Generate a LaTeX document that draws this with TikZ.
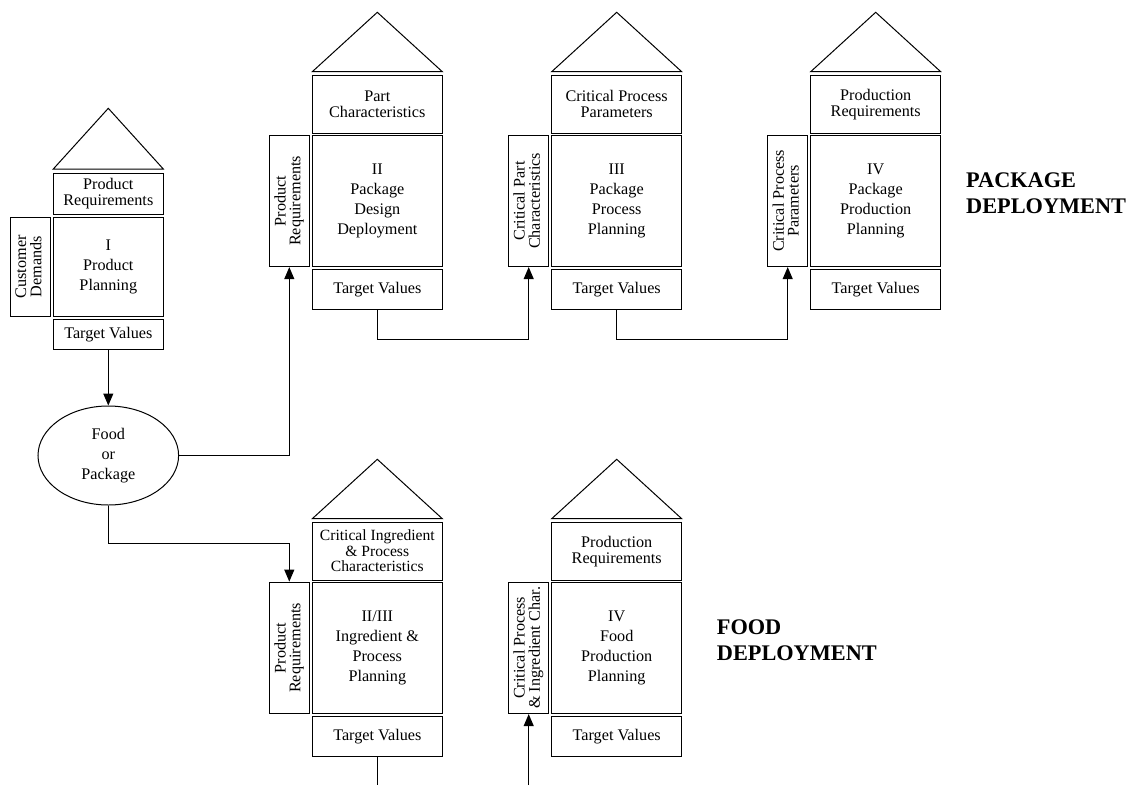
\documentclass[tikz,border=0pt]{standalone}
\usepackage{fontspec}
\usepackage{graphicx}
\setmainfont{Liberation Serif}
\usetikzlibrary{arrows.meta,shapes.geometric}

% upright text column turned to read from bottom to top
\newcommand\sidetext[1]{\rotatebox{90}{\fontsize{16.2}{13.5}\selectfont\begin{tabular}{@{}c@{}}#1\end{tabular}}}

\tikzset{
  frame/.style={draw, line width=1pt, inner sep=0pt, align=center},
  topbox/.style={frame, font=\fontsize{16.2}{16}\selectfont, minimum width=130pt, minimum height=58.3pt},
  mainbox/.style={frame, font=\fontsize{16.2}{20}\selectfont, minimum width=130pt, minimum height=131.5pt},
  sidebox/.style={frame, minimum width=40pt, minimum height=131.5pt},
  tvbox/.style={frame, font=\fontsize{16.2}{20}\selectfont, minimum width=130pt, minimum height=40.5pt},
  roof/.style={draw, line width=1pt, line join=miter},
  link/.style={draw, line width=1pt},
  arr/.style={link, -{Triangle[length=12pt,width=10pt]}},
  headline/.style={anchor=north west, inner sep=0pt, align=left, font=\fontsize{22.3}{26.7}\selectfont\bfseries}
}

\begin{document}
\begin{tikzpicture}[x=1pt,y=-1pt]
\useasboundingbox (0,0) rectangle (1133,785);

% ---- House I: product planning
\draw[roof] (53.3,169) -- (108.3,108.3) -- (163.3,169) -- cycle;
\node[frame, font=\fontsize{16.2}{16}\selectfont, minimum width=110pt, minimum height=41.3pt] (t1) at (108.3,193.65) {Product\\Requirements};
\node[frame, font=\fontsize{16.2}{20}\selectfont, minimum width=110pt, minimum height=98.3pt] (m1) at (108.3,266.85) {I\\Product\\Planning};
\node[frame, minimum width=39.3pt, minimum height=98.3pt] (s1) at (30.35,266.85) {\sidetext{Customer\\Demands}};
\node[frame, font=\fontsize{16.2}{20}\selectfont, minimum width=110pt, minimum height=30pt] (v1) at (108.3,334.3) {Target Values};

% ---- decision ellipse
\node[draw, line width=1pt, ellipse, inner sep=0pt, minimum width=140.6pt, minimum height=99pt, align=center, font=\fontsize{16.2}{20}\selectfont] (ell) at (108.3,455.5) {Food\\or\\Package};

% ---- House II: package design deployment
\draw[roof] (312.3,71.7) -- (377.3,12.3) -- (442.3,71.7) -- cycle;
\node[topbox] (t2) at (377.3,104.15) {Part\\Characteristics};
\node[mainbox] (m2) at (377.3,200.85) {II\\Package\\Design\\Deployment};
\node[sidebox] (s2) at (289.3,200.85) {\sidetext{Product\\Requirements}};
\node[tvbox] (v2) at (377.3,289.65) {Target Values};

% ---- House III: package process planning
\draw[roof] (551.7,71.7) -- (616.7,12.3) -- (681.7,71.7) -- cycle;
\node[topbox] (t3) at (616.7,104.15) {Critical Process\\Parameters};
\node[mainbox] (m3) at (616.7,200.85) {III\\Package\\Process\\Planning};
\node[sidebox] (s3) at (528.7,200.85) {\sidetext{Critical Part\\Characteristics}};
\node[tvbox] (v3) at (616.7,289.65) {Target Values};

% ---- House IV: package production planning
\draw[roof] (810.7,71.7) -- (875.7,12.3) -- (940.7,71.7) -- cycle;
\node[topbox] (t4) at (875.7,104.15) {Production\\Requirements};
\node[mainbox] (m4) at (875.7,200.85) {IV\\Package\\Production\\Planning};
\node[sidebox] (s4) at (787.7,200.85) {\sidetext{Critical Process\\Parameters}};
\node[tvbox] (v4) at (875.7,289.65) {Target Values};

% ---- House II/III: ingredient and process planning
\draw[roof] (312.3,518.7) -- (377.3,459.3) -- (442.3,518.7) -- cycle;
\node[topbox, font=\fontsize{15.6}{15.5}\selectfont] (t5) at (377.3,551.15) {Critical Ingredient\\\& Process\\Characteristics};
\node[mainbox] (m5) at (377.3,647.85) {II/III\\Ingredient \&\\Process\\Planning};
\node[sidebox] (s5) at (289.3,647.85) {\sidetext{Product\\Requirements}};
\node[tvbox] (v5) at (377.3,736.7) {Target Values};

% ---- House IV: food production planning
\draw[roof] (551.7,518.7) -- (616.7,459.3) -- (681.7,518.7) -- cycle;
\node[topbox] (t6) at (616.7,551.15) {Production\\Requirements};
\node[mainbox] (m6) at (616.7,647.85) {IV\\Food\\Production\\Planning};
\node[sidebox] (s6) at (528.7,647.85) {\sidetext{Critical Process\\\& Ingredient Char.}};
\node[tvbox] (v6) at (616.7,736.7) {Target Values};

% ---- section headings
\node[headline] (pkg) at (966,172.3) {PACKAGE\\DEPLOYMENT};
\node[headline] (food) at (716.7,619.3) {FOOD\\DEPLOYMENT};

% ---- flow connectors
\draw[arr] (v1.south) -- (ell.north);
\draw[arr] (ell.east) -| (s2.south);
\draw[arr] (ell.south) -- ++(0,38.3) -| (s5.north);
\draw[arr] (v2.south) -- ++(0,29.5) -| (s3.south);
\draw[arr] (v3.south) -- ++(0,29.5) -| (s4.south);

% ---- open ends at the lower edge
\coordinate (out5) at (377.3,785);
\coordinate (in6) at (528.7,785);
\draw[link] (v5.south) -- (out5);
\draw[arr] (in6) -- (s6.south);
\end{tikzpicture}
\end{document}
